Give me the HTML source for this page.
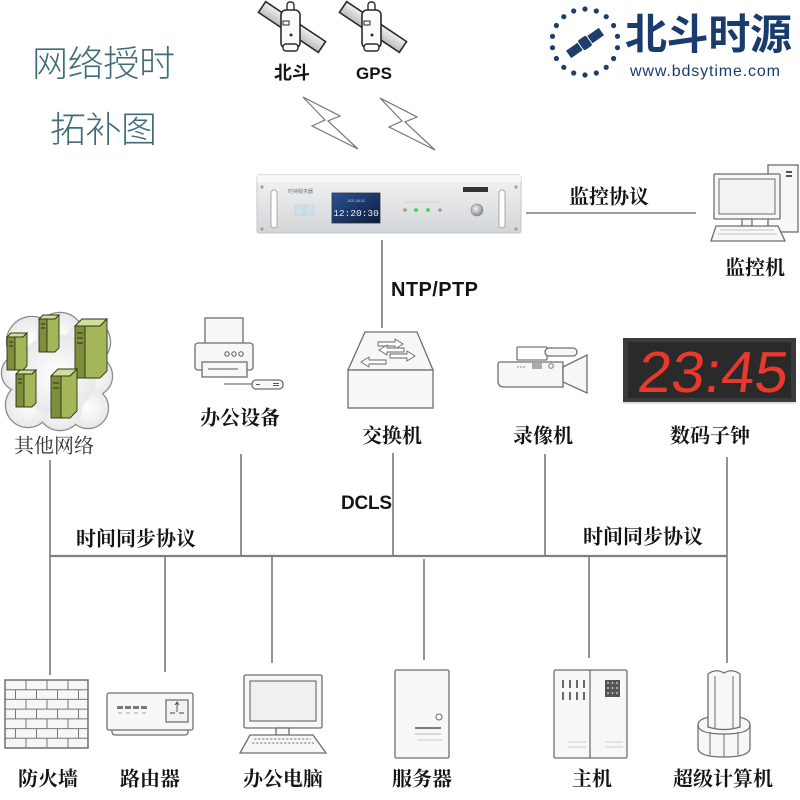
<!DOCTYPE html>
<html><head><meta charset="utf-8"><style>
html,body{margin:0;padding:0;background:#fff;}
svg{display:block;}
.lb{font-family:"Liberation Serif","Noto Serif CJK SC",serif;font-weight:bold;font-size:20px;fill:#141414;text-anchor:middle;}
.en{font-family:"Liberation Sans","Noto Sans CJK SC",sans-serif;font-weight:bold;fill:#141414;}
.ln{stroke:#7a7a7a;stroke-width:1.6;fill:none;}
.ic{stroke:#6e6e6e;stroke-width:1.3;fill:#f7f7f7;}
</style></head><body>
<svg width="800" height="800" viewBox="0 0 800 800" xmlns="http://www.w3.org/2000/svg">
<defs>
<linearGradient id="silver" x1="0" y1="0" x2="0" y2="1"><stop offset="0" stop-color="#f2f3f4"/><stop offset="1" stop-color="#d3d6d9"/></linearGradient>
<linearGradient id="scr" x1="0" y1="0" x2="1" y2="1"><stop offset="0" stop-color="#2a5394"/><stop offset="1" stop-color="#0c1b3c"/></linearGradient>
<linearGradient id="pan" x1="0" y1="0" x2="0" y2="1"><stop offset="0" stop-color="#f0f0f0"/><stop offset="1" stop-color="#bdbdbd"/></linearGradient>
<radialGradient id="cl" cx="0.5" cy="0.5" r="0.6"><stop offset="0" stop-color="#ffffff"/><stop offset="1" stop-color="#e4e4e4"/></radialGradient>
<linearGradient id="wg" x1="0" y1="0" x2="0" y2="1"><stop offset="0" stop-color="#ffffff"/><stop offset="1" stop-color="#e6e6e6"/></linearGradient>
<radialGradient id="knob" cx="0.4" cy="0.4" r="0.6"><stop offset="0" stop-color="#f4f4f4"/><stop offset="1" stop-color="#8a8a8a"/></radialGradient>
</defs>

<!-- Title -->
<text x="32" y="76" font-family="'Liberation Sans','Noto Sans CJK SC',sans-serif" font-size="36" font-weight="300" fill="#3f6b7a" textLength="143">网络授时</text>
<text x="50" y="142" font-family="'Liberation Sans','Noto Sans CJK SC',sans-serif" font-size="36" font-weight="300" fill="#3f6b7a" textLength="107">拓补图</text>

<!-- Logo -->
<g fill="#1d3d6b">
<circle cx="585" cy="9" r="2.6"/><circle cx="596.3" cy="11" r="2.6"/><circle cx="606.2" cy="16.7" r="2.6"/><circle cx="613.6" cy="25.5" r="2.6"/><circle cx="617.5" cy="36.3" r="2.6"/><circle cx="617.5" cy="47.7" r="2.6"/><circle cx="613.6" cy="58.5" r="2.6"/><circle cx="606.2" cy="67.3" r="2.6"/><circle cx="596.3" cy="73" r="2.6"/><circle cx="585" cy="75" r="2.6"/><circle cx="573.7" cy="73" r="2.6"/><circle cx="563.8" cy="67.3" r="2.6"/><circle cx="556.4" cy="58.5" r="2.6"/><circle cx="552.5" cy="47.7" r="2.6"/><circle cx="552.5" cy="36.3" r="2.6"/><circle cx="556.4" cy="25.5" r="2.6"/><circle cx="563.8" cy="16.7" r="2.6"/><circle cx="573.7" cy="11" r="2.6"/>
<g transform="translate(585,43) rotate(-35)">
<rect x="-20" y="-4.5" width="14" height="9"/><rect x="6" y="-4.5" width="14" height="9"/><rect x="-5" y="-6" width="10" height="12" rx="2"/>
</g>
</g>
<text x="625" y="49" font-family="'Liberation Sans','Noto Sans CJK SC',sans-serif" font-size="42" font-weight="bold" fill="#1a3b6e" textLength="167">北斗时源</text>
<text x="630" y="76" font-family="'Liberation Sans',sans-serif" font-size="16" fill="#1a3b6e" textLength="150">www.bdsytime.com</text>

<!-- Satellites -->
<g id="sat">
<rect x="256" y="20.5" width="72" height="13" transform="rotate(33.7 292 27)" fill="url(#pan)" stroke="#2a2a2a" stroke-width="1.6"/>
<rect x="287" y="2" width="7" height="10" rx="3" fill="#fff" stroke="#2a2a2a" stroke-width="1.4"/>
<rect x="281" y="10" width="19" height="38" rx="5" fill="#fafafa" stroke="#2a2a2a" stroke-width="1.6"/>
<rect x="283" y="44" width="15" height="7" rx="3" fill="#fafafa" stroke="#2a2a2a" stroke-width="1.4"/>
<rect x="283" y="21" width="6" height="4" fill="none" stroke="#2a2a2a" stroke-width="1"/>
<circle cx="291" cy="35" r="1.5" fill="#2a2a2a"/>
</g>
<use href="#sat" transform="translate(81,0)"/>
<text x="292" y="79" font-family="'Liberation Sans','Noto Sans CJK SC',sans-serif" font-size="18" font-weight="bold" fill="#141414" text-anchor="middle">北斗</text>
<text x="374" y="79" class="en" font-size="17" text-anchor="middle">GPS</text>

<!-- Lightning -->
<polygon points="303,97 340,116 328,121 358,149 312,126 325,120" fill="#fff" stroke="#777" stroke-width="1.2"/>
<polygon points="380,98 417,117 405,122 435,150 389,127 402,121" fill="#fff" stroke="#777" stroke-width="1.2"/>

<!-- Time server 2U -->
<rect x="257" y="175" width="264" height="58" rx="2" fill="url(#silver)" stroke="#c3c6c9"/>
<rect x="257" y="175" width="264" height="7" fill="#f6f7f8" opacity="0.9"/>
<g fill="#a0a0a0"><circle cx="262" cy="187" r="1.6"/><circle cx="262" cy="229" r="1.6"/><circle cx="516" cy="187" r="1.6"/><circle cx="516" cy="229" r="1.6"/></g>
<rect x="271" y="190" width="6" height="38" rx="3" fill="#fff" stroke="#a8a8a8"/>
<rect x="499" y="190" width="6" height="38" rx="3" fill="#fff" stroke="#a8a8a8"/>
<text x="288" y="193" font-family="'Noto Sans CJK SC',sans-serif" font-size="5" fill="#777">时钟服务器</text>
<rect x="295" y="205" width="9" height="10" fill="#cfe0ea" stroke="#b5c5d0" stroke-width="0.5"/>
<rect x="305" y="205" width="9" height="10" fill="#cfe0ea" stroke="#b5c5d0" stroke-width="0.5"/>
<rect x="332" y="193" width="48" height="30" fill="url(#scr)" stroke="#333" stroke-width="0.8"/>
<text x="356" y="216" font-family="'Liberation Mono',monospace" font-size="9.5" fill="#e4ecf7" text-anchor="middle">12:20:30</text>
<text x="356" y="202" font-family="'Liberation Sans',sans-serif" font-size="3.5" fill="#c8d4e8" text-anchor="middle">2021-06-01</text>
<g><circle cx="405" cy="210" r="1.8" fill="#999"/><circle cx="416" cy="210" r="1.9" fill="#3fd35a"/><circle cx="428" cy="210" r="1.9" fill="#3fd35a"/><circle cx="440" cy="210" r="1.8" fill="#999"/></g>
<path d="M405,204 V202 H440 V204" fill="none" stroke="#bbb" stroke-width="0.5"/>
<rect x="463" y="187" width="25" height="5" fill="#333"/>
<circle cx="477" cy="210" r="6" fill="url(#knob)" stroke="#888" stroke-width="0.6"/>

<!-- Monitor PC -->
<rect x="768" y="165" width="30" height="67" class="ic"/>
<rect x="786" y="171" width="6" height="2" fill="#555"/><rect x="786" y="175" width="6" height="2" fill="#555"/>
<rect x="714" y="174" width="66" height="45" rx="1" class="ic" fill="#fff"/>
<rect x="719" y="179" width="56" height="35" fill="#f2f2f2" stroke="#6e6e6e" stroke-width="1"/>
<rect x="742" y="219" width="10" height="7" class="ic"/>
<polygon points="716,226 778,226 785,241 711,241" class="ic"/>
<g stroke="#cfcfcf" stroke-width="1.2"><line x1="720" y1="230" x2="774" y2="230"/><line x1="718" y1="234" x2="777" y2="234"/></g>

<!-- Top connectors -->
<line x1="526" y1="213" x2="696" y2="213" class="ln"/>
<line x1="382" y1="240" x2="382" y2="328" class="ln"/>
<text x="609" y="203.5" class="lb">监控协议</text>
<text x="755" y="274.5" class="lb">监控机</text>
<text x="391" y="296" class="en" font-size="20" textLength="87">NTP/PTP</text>

<!-- Cloud with servers -->
<g stroke="#8a8a8a" stroke-width="2.4" fill="#eee">
<circle cx="32" cy="342" r="25"/><circle cx="60" cy="336" r="23"/><circle cx="88" cy="342" r="22"/><circle cx="92" cy="376" r="20"/><circle cx="88" cy="408" r="20"/><circle cx="60" cy="408" r="22"/><circle cx="28" cy="405" r="22"/><circle cx="20" cy="373" r="18"/>
</g>
<g fill="url(#cl)">
<circle cx="32" cy="342" r="25"/><circle cx="60" cy="336" r="23"/><circle cx="88" cy="342" r="22"/><circle cx="92" cy="376" r="20"/><circle cx="88" cy="408" r="20"/><circle cx="60" cy="408" r="22"/><circle cx="28" cy="405" r="22"/><circle cx="20" cy="373" r="18"/><circle cx="57" cy="374" r="40"/>
</g>
<g id="tw" stroke="#2f3518" stroke-width="0.9">
<polygon points="7,337 11,333 27,333 23,337" fill="#d3dd9c"/>
<rect x="7" y="337" width="8" height="33" fill="#7d8f3a"/>
<polygon points="15,337 23,337 27,333 27,366 23,370 15,370" fill="#a3b65a"/>
<line x1="9" y1="342" x2="13" y2="342" stroke="#222"/><line x1="9" y1="346" x2="13" y2="346" stroke="#222"/>
</g>
<use href="#tw" transform="translate(32,-18)"/>
<use href="#tw" transform="translate(9,37)"/>
<g stroke="#2f3518" stroke-width="0.9">
<polygon points="75,326 82,319 107,319 100,326" fill="#d3dd9c"/>
<rect x="75" y="326" width="10" height="52" fill="#7d8f3a"/>
<polygon points="85,326 100,326 107,319 107,371 100,378 85,378" fill="#a3b65a"/>
<line x1="77" y1="333" x2="83" y2="333" stroke="#222"/><line x1="77" y1="338" x2="83" y2="338" stroke="#222"/><line x1="77" y1="343" x2="83" y2="343" stroke="#222"/>
<polygon points="51,376 58,369 77,369 70,376" fill="#d3dd9c"/>
<rect x="51" y="376" width="10" height="42" fill="#7d8f3a"/>
<polygon points="61,376 70,376 77,369 77,411 70,418 61,418" fill="#a3b65a"/>
<line x1="53" y1="383" x2="59" y2="383" stroke="#222"/><line x1="53" y1="388" x2="59" y2="388" stroke="#222"/>
</g>
<text x="54" y="452.5" font-family="'Liberation Serif','Noto Serif CJK SC',serif" font-size="20" fill="#333" text-anchor="middle">其他网络</text>

<!-- Printer -->
<rect x="205" y="318" width="38" height="27" class="ic" fill="#fff"/>
<rect x="195" y="343" width="58" height="27" rx="3" class="ic"/>
<g fill="none" stroke="#555" stroke-width="1"><circle cx="227" cy="354" r="2.2"/><circle cx="234" cy="354" r="2.2"/><circle cx="241" cy="354" r="2.2"/></g>
<rect x="202" y="362" width="45" height="15" class="ic" fill="#fff"/>
<line x1="208" y1="369" x2="238" y2="369" stroke="#555" stroke-width="1"/>
<line x1="224" y1="384" x2="253" y2="384" stroke="#555" stroke-width="1"/>
<rect x="252" y="380" width="31" height="9" rx="4" class="ic"/>
<line x1="256" y1="384.5" x2="260" y2="384.5" stroke="#555"/><line x1="273" y1="383.5" x2="279" y2="383.5" stroke="#555"/><line x1="273" y1="385.5" x2="279" y2="385.5" stroke="#555"/>
<text x="240" y="424.5" class="lb">办公设备</text>

<!-- Switch -->
<polygon points="365,332 417,332 433,370 348,370" class="ic" fill="#f4f4f4"/>
<rect x="348" y="370" width="85" height="38" class="ic" fill="url(#wg)"/>
<g fill="#fff" stroke="#666" stroke-width="0.9">
<polygon points="378,342 395,342 395,339 403,344 395,349 395,346 378,346"/>
<polygon points="404,348 387,348 387,345 379,350 387,355 387,352 404,352"/>
<polygon points="390,354 407,354 407,351 415,356 407,361 407,358 390,358"/>
<polygon points="386,360 369,360 369,357 361,362 369,367 369,364 386,364"/>
</g>
<text x="392" y="442.5" class="lb">交换机</text>

<!-- Camcorder -->
<rect x="517" y="347" width="30" height="13" rx="1" fill="none" stroke="#777" stroke-width="1.3"/>
<rect x="545" y="348" width="32" height="8" rx="4" class="ic"/>
<path d="M500,362 H563 V387 H504 Q498,387 498,381 V365 Q498,362 500,362 Z" class="ic" fill="#fbfbfb"/>
<polygon points="563,367 587,355 587,393 563,382" class="ic" fill="#fbfbfb"/>
<g fill="#999"><circle cx="518" cy="367" r="0.9"/><circle cx="521" cy="367" r="0.9"/><circle cx="524" cy="367" r="0.9"/></g>
<rect x="532" y="363" width="10" height="6" fill="#aaa"/>
<circle cx="551" cy="366" r="2.3" fill="none" stroke="#777"/>
<text x="543" y="442.5" class="lb">录像机</text>

<!-- Digital clock -->
<rect x="623" y="338" width="173" height="64" fill="#3b3b3b"/>
<rect x="628" y="342" width="163" height="56" fill="#2a2a2a"/>
<line x1="623" y1="403" x2="796" y2="403" stroke="#c9dbe9" stroke-width="1.5"/>
<g transform="translate(636,392) skewX(-7)">
<text x="0" y="0" font-family="'Liberation Sans',sans-serif" font-size="58" fill="#e8392c" textLength="150" lengthAdjust="spacingAndGlyphs">23:45</text>
</g>
<text x="710" y="442.5" class="lb">数码子钟</text>

<!-- Bus lines -->
<line x1="50" y1="460" x2="50" y2="675" class="ln"/>
<line x1="241" y1="454" x2="241" y2="556" class="ln"/>
<line x1="393" y1="453" x2="393" y2="556" class="ln"/>
<line x1="545" y1="454" x2="545" y2="556" class="ln"/>
<line x1="727" y1="457" x2="727" y2="663" class="ln"/>
<line x1="50" y1="556" x2="727" y2="556" stroke="#808080" stroke-width="2.2"/>
<line x1="165" y1="556" x2="165" y2="672" class="ln"/>
<line x1="272" y1="556" x2="272" y2="663" class="ln"/>
<line x1="424" y1="559" x2="424" y2="660" class="ln"/>
<line x1="589" y1="556" x2="589" y2="658" class="ln"/>

<text x="136" y="545.5" class="lb" font-size="21">时间同步协议</text>
<text x="643" y="543.5" class="lb" font-size="21">时间同步协议</text>
<text x="341" y="509" class="en" font-size="19" textLength="51">DCLS</text>

<!-- Firewall -->
<rect x="5" y="680" width="83" height="68" fill="#f6f6f6" stroke="#666" stroke-width="1.4"/>
<g stroke="#777" stroke-width="1">
<line x1="5" y1="689.7" x2="88" y2="689.7"/><line x1="5" y1="699.4" x2="88" y2="699.4"/><line x1="5" y1="709.1" x2="88" y2="709.1"/><line x1="5" y1="718.9" x2="88" y2="718.9"/><line x1="5" y1="728.6" x2="88" y2="728.6"/><line x1="5" y1="738.3" x2="88" y2="738.3"/>
<path d="M26,680V689.7M47,680V689.7M68,680V689.7 M26,699.4V709.1M47,699.4V709.1M68,699.4V709.1 M26,718.9V728.6M47,718.9V728.6M68,718.9V728.6 M26,738.3V748M47,738.3V748M68,738.3V748"/>
<path d="M15.5,689.7V699.4M36.5,689.7V699.4M57.5,689.7V699.4M78.5,689.7V699.4 M15.5,709.1V718.9M36.5,709.1V718.9M57.5,709.1V718.9M78.5,709.1V718.9 M15.5,728.6V738.3M36.5,728.6V738.3M57.5,728.6V738.3M78.5,728.6V738.3"/>
</g>
<text x="48" y="785.5" class="lb">防火墙</text>

<!-- Router -->
<rect x="112" y="727" width="76" height="8" rx="3" class="ic"/>
<rect x="107" y="693" width="86" height="37" rx="2" class="ic" fill="url(#wg)"/>
<g fill="#777"><rect x="117" y="706" width="6" height="3"/><rect x="125" y="706" width="6" height="3"/><rect x="133" y="706" width="6" height="3"/><rect x="141" y="706" width="6" height="3"/></g>
<g fill="#ccc"><rect x="118" y="712" width="4" height="2"/><rect x="126" y="712" width="4" height="2"/><rect x="134" y="712" width="4" height="2"/><rect x="142" y="712" width="4" height="2"/></g>
<rect x="166" y="700" width="22" height="22" fill="#f2f2f2" stroke="#666" stroke-width="1.2"/>
<path d="M177,712V703 M175,705L177,702L179,705 M170,713H175 M184,713H179" stroke="#444" stroke-width="0.9" fill="none"/>
<text x="150" y="785.5" class="lb">路由器</text>

<!-- Office PC -->
<rect x="244" y="675" width="78" height="53" rx="1.5" class="ic" fill="#fff"/>
<rect x="250" y="681" width="66" height="40" fill="#f0f0f0" stroke="#666" stroke-width="1.1"/>
<rect x="276" y="728" width="13" height="7" class="ic"/>
<polygon points="250,735 313,735 326,753 240,753" class="ic"/>
<g stroke="#999" stroke-width="1.2" stroke-dasharray="2.5,1.5"><line x1="254" y1="739" x2="311" y2="739"/><line x1="252" y1="743" x2="314" y2="743"/></g>
<text x="283" y="785.5" class="lb">办公电脑</text>

<!-- Server -->
<rect x="395" y="670" width="54" height="88" rx="1.5" class="ic" fill="url(#wg)"/>
<circle cx="439" cy="717" r="3" fill="#fff" stroke="#666" stroke-width="1"/>
<line x1="415" y1="728" x2="441" y2="728" stroke="#555" stroke-width="1.6"/>
<line x1="415" y1="734" x2="441" y2="734" stroke="#bbb" stroke-width="1"/>
<line x1="417" y1="740" x2="443" y2="740" stroke="#ccc" stroke-width="1"/>
<text x="422" y="785.5" class="lb">服务器</text>

<!-- Host -->
<rect x="554" y="670" width="73" height="88" rx="1.5" class="ic" fill="url(#wg)"/>
<line x1="590" y1="670" x2="590" y2="758" stroke="#666" stroke-width="1.2"/>
<g stroke="#444" stroke-width="1.6">
<path d="M563,680V688M570,680V688M577,680V688M584,680V688M563,692V700M570,692V700M577,692V700M584,692V700"/>
</g>
<rect x="605" y="680" width="15" height="17" fill="#555"/>
<g fill="#ddd"><circle cx="608" cy="683" r="0.9"/><circle cx="612.5" cy="683" r="0.9"/><circle cx="617" cy="683" r="0.9"/><circle cx="608" cy="688" r="0.9"/><circle cx="612.5" cy="688" r="0.9"/><circle cx="617" cy="688" r="0.9"/><circle cx="608" cy="693" r="0.9"/><circle cx="612.5" cy="693" r="0.9"/><circle cx="617" cy="693" r="0.9"/></g>
<g stroke="#ccc" stroke-width="1"><line x1="568" y1="742" x2="586" y2="742"/><line x1="568" y1="747" x2="586" y2="747"/><line x1="605" y1="742" x2="623" y2="742"/><line x1="605" y1="747" x2="623" y2="747"/></g>
<text x="592" y="785.5" class="lb">主机</text>

<!-- Supercomputer -->
<path d="M698,725 Q698,716 724,716 Q750,716 750,725 V748 Q750,757 724,757 Q698,757 698,748 Z" class="ic" fill="#f3f3f3"/>
<path d="M698,725 Q698,734 724,734 Q750,734 750,725" fill="none" stroke="#6e6e6e" stroke-width="1.2"/>
<g stroke="#6e6e6e" stroke-width="1"><line x1="710" y1="732" x2="710" y2="755"/><line x1="724" y1="734" x2="724" y2="757"/><line x1="738" y1="732" x2="738" y2="755"/></g>
<path d="M708,674 Q716,668 724,673 Q732,668 740,674 V727 Q724,732 708,727 Z" class="ic" fill="#fafafa"/>
<g stroke="#6e6e6e" stroke-width="1"><line x1="715" y1="676" x2="715" y2="729"/><line x1="733" y1="676" x2="733" y2="729"/></g>
<text x="723" y="785.5" class="lb">超级计算机</text>
</svg>
</body></html>
